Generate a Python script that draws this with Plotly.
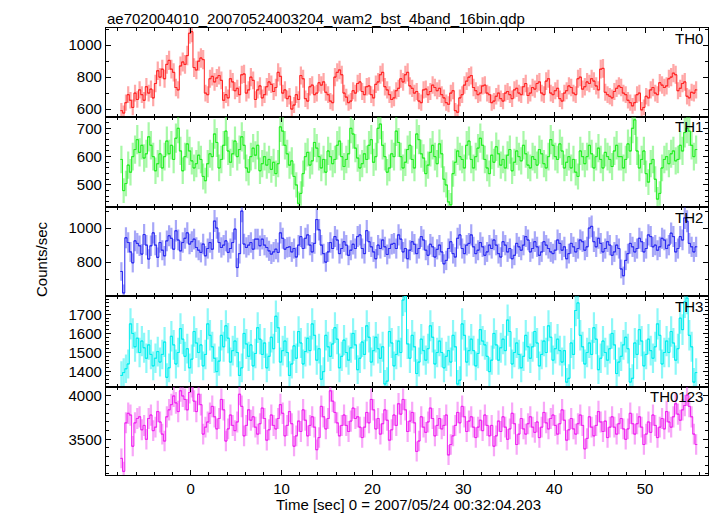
import numpy as np
import plotly.graph_objects as go
from plotly.subplots import make_subplots

# ---- data: 0.25 s bins (16 x 1/64 s), first bin centred at t = -7.625 s ----
bin_width = 0.25
t_start = -7.625

th0 = [590, 575, 640, 690, 655, 610, 700, 660, 720, 690, 655, 740, 700, 725, 670, 760, 840, 800, 850, 790,
       880, 905, 850, 830, 735, 720, 870, 895, 880, 935, 1075, 1085, 860, 845, 900, 920, 910, 700, 690, 790,
       805, 770, 795, 810, 780, 655, 690, 670, 790, 770, 715, 730, 690, 815, 820, 700, 720, 800, 780, 660,
       720, 745, 670, 690, 740, 770, 755, 710, 735, 830, 805, 700, 720, 665, 680, 600, 625, 690, 660, 810,
       790, 665, 650, 740, 750, 690, 700, 765, 750, 770, 705, 690, 650, 640, 800, 830, 845, 815, 700, 675,
       640, 650, 715, 700, 760, 770, 710, 690, 740, 745, 690, 670, 755, 770, 815, 830, 740, 720, 690, 660,
       670, 715, 730, 790, 770, 815, 830, 745, 730, 700, 710, 650, 640, 720, 725, 690, 710, 750, 735, 715,
       730, 690, 670, 640, 630, 700, 715, 590, 580, 670, 690, 750, 775, 800, 810, 735, 715, 690, 700, 745,
       750, 700, 690, 640, 650, 680, 700, 665, 650, 700, 710, 690, 665, 720, 730, 700, 690, 740, 760, 685,
       700, 735, 725, 760, 770, 700, 690, 775, 790, 700, 690, 715, 730, 665, 650, 700, 715, 745, 735, 700,
       690, 790, 800, 725, 740, 770, 760, 790, 775, 745, 720, 850, 855, 705, 690, 680, 670, 710, 730, 745,
       735, 700, 690, 655, 640, 620, 640, 690, 700, 595, 610, 680, 670, 720, 735, 700, 690, 765, 750, 735,
       745, 790, 800, 825, 815, 715, 730, 760, 770, 680, 670, 705, 700, 720]

th1 = [590, 480, 505, 570, 545, 600, 625, 660, 615, 640, 595, 610, 670, 640, 600, 550, 575, 610, 560, 600,
       655, 610, 640, 590, 665, 700, 620, 550, 600, 645, 620, 585, 560, 575, 605, 590, 530, 515, 575, 610,
       600, 680, 650, 560, 590, 640, 690, 620, 580, 610, 655, 600, 625, 670, 640, 560, 545, 600, 630, 605,
       640, 550, 575, 600, 570, 590, 555, 580, 540, 575, 705, 690, 640, 610, 570, 585, 530, 500, 435, 470,
       540, 600, 615, 570, 585, 650, 630, 600, 560, 590, 545, 620, 600, 575, 590, 640, 655, 600, 565, 590,
       610, 700, 680, 630, 595, 560, 575, 610, 590, 640, 660, 580, 600, 700, 715, 640, 600, 545, 560, 610,
       600, 690, 650, 600, 560, 580, 625, 640, 590, 560, 680, 660, 610, 595, 540, 570, 615, 640, 600, 575,
       645, 610, 520, 500, 440, 430, 540, 580, 620, 600, 590, 560, 640, 655, 590, 560, 600, 630, 665, 640,
       590, 560, 540, 605, 580, 635, 610, 570, 590, 560, 605, 625, 550, 580, 620, 600, 585, 640, 610, 570,
       560, 600, 590, 570, 625, 610, 575, 560, 600, 660, 640, 600, 590, 645, 620, 560, 580, 600, 560, 590,
       545, 530, 620, 600, 575, 600, 640, 610, 560, 600, 630, 590, 560, 615, 600, 590, 565, 620, 640, 600,
       600, 560, 590, 645, 620, 700, 730, 620, 560, 590, 620, 540, 510, 575, 590, 520, 450, 470, 560, 590,
       600, 575, 610, 620, 585, 590, 640, 620, 685, 700, 690, 640, 600, 625]

th2 = [745, 619, 943, 915, 860, 796, 925, 910, 896, 847, 962, 900, 818, 896, 972, 900, 828, 915, 870, 837,
       925, 955, 940, 876, 984, 930, 866, 915, 940, 972, 906, 920, 935, 886, 870, 857, 906, 837, 880, 915,
       876, 1041, 1000, 915, 886, 900, 925, 857, 880, 915, 994, 768, 850, 1100, 906, 886, 900, 915, 876, 935,
       935, 896, 935, 900, 886, 866, 847, 860, 876, 857, 972, 940, 876, 886, 890, 860, 880, 830, 900, 950,
       880, 940, 960, 900, 860, 910, 1050, 990, 900, 850, 800, 860, 915, 880, 950, 930, 850, 880, 920, 900,
       840, 870, 905, 880, 950, 960, 880, 850, 985, 920, 890, 860, 820, 900, 880, 930, 890, 845, 880, 905,
       910, 880, 960, 935, 860, 880, 820, 870, 920, 905, 850, 880, 950, 930, 870, 840, 905, 890, 830, 875,
       900, 860, 790, 810, 880, 920, 850, 830, 940, 960, 880, 850, 900, 910, 960, 890, 850, 870, 915, 890,
       840, 860, 900, 880, 930, 900, 850, 830, 920, 900, 860, 880, 820, 840, 910, 890, 870, 900, 950, 930,
       860, 880, 920, 890, 840, 860, 920, 900, 880, 860, 850, 870, 930, 910, 870, 890, 820, 850, 910, 890,
       860, 880, 930, 920, 870, 890, 1000, 1010, 920, 890, 940, 910, 860, 880, 920, 900, 840, 860, 900, 880,
       760, 720, 810, 850, 910, 890, 860, 880, 940, 920, 860, 880, 960, 950, 890, 900, 870, 890, 940, 930,
       880, 900, 970, 950, 860, 880, 950, 930, 1060, 1040, 910, 890, 860, 890]

th3 = [1380, 1395, 1415, 1440, 1650, 1600, 1530, 1575, 1500, 1560, 1525, 1470, 1540, 1490, 1430, 1470, 1505, 1450, 1490, 1555,
       1370, 1420, 1585, 1540, 1440, 1500, 1625, 1570, 1480, 1520, 1420, 1465, 1610, 1550, 1500, 1540, 1430, 1490, 1650, 1590,
       1530, 1470, 1400, 1455, 1590, 1530, 1640, 1575, 1450, 1510, 1560, 1500, 1380, 1420, 1600, 1545, 1480, 1540, 1430, 1495,
       1630, 1570, 1490, 1550, 1420, 1480, 1580, 1520, 1690, 1630, 1450, 1510, 1560, 1500, 1380, 1440, 1535, 1470, 1610, 1550,
       1440, 1505, 1575, 1510, 1650, 1590, 1460, 1520, 1360, 1400, 1590, 1530, 1480, 1545, 1630, 1570, 1420, 1480, 1565, 1500,
       1460, 1525, 1600, 1540, 1410, 1470, 1555, 1490, 1640, 1580, 1450, 1510, 1580, 1520, 1470, 1530, 1335, 1350, 1610, 1550,
       1430, 1490, 1560, 1500, 1775, 1795, 1545, 1470, 1590, 1530, 1390, 1450, 1570, 1510, 1460, 1520, 1640, 1580, 1440, 1500,
       1560, 1500, 1420, 1480, 1510, 1450, 1590, 1530, 1335, 1355, 1650, 1590, 1450, 1510, 1570, 1510, 1430, 1495, 1620, 1560,
       1540, 1480, 1400, 1460, 1600, 1540, 1460, 1525, 1570, 1510, 1670, 1610, 1440, 1500, 1550, 1490, 1420, 1480, 1590, 1530,
       1470, 1530, 1610, 1550, 1430, 1490, 1560, 1500, 1640, 1580, 1460, 1520, 1570, 1510, 1450, 1510, 1345, 1365, 1550, 1490,
       1720, 1760, 1590, 1530, 1440, 1500, 1550, 1490, 1630, 1570, 1410, 1470, 1560, 1500, 1460, 1520, 1600, 1540, 1390, 1450,
       1480, 1540, 1580, 1520, 1345, 1365, 1550, 1490, 1620, 1560, 1430, 1490, 1570, 1510, 1470, 1530, 1650, 1590, 1440, 1500,
       1560, 1500, 1610, 1550, 1460, 1520, 1680, 1620, 1765, 1785, 1590, 1530, 1345, 1395]

th0123 = [3280, 3130, 3690, 3800, 3780, 3420, 3690, 3740, 3760, 3610, 3660, 3500, 3740, 3780, 3600, 3640, 3820, 3700, 3560, 3480,
          3760, 3840, 3900, 4000, 3920, 3820, 4060, 4000, 3960, 3840, 4040, 4110, 3940, 3820, 4020, 3900, 3560, 3640, 3700, 3800,
          3880, 3760, 3620, 3740, 3960, 3840, 3480, 3620, 3780, 3660, 3600, 3700, 4020, 3880, 3540, 3660, 3840, 3720, 3760, 3640,
          3560, 3680, 3860, 3740, 3490, 3610, 3780, 3660, 3620, 3740, 3900, 3800, 3540, 3660, 3820, 3680, 3420, 3540, 3710, 3590,
          3840, 3720, 3540, 3660, 3760, 3640, 3380, 3520, 3880, 3760, 3620, 3740, 4060, 3940, 3810, 3690, 3540, 3660, 3780, 3660,
          3590, 3710, 3860, 3740, 3760, 3640, 3520, 3640, 3810, 3690, 3960, 3840, 3620, 3740, 3560, 3680, 3840, 3720, 3490, 3610,
          3780, 3660, 3910, 3790, 3960, 3840, 3590, 3710, 3810, 3690, 3360, 3480, 3760, 3640, 3580, 3700, 3860, 3740, 3540, 3660,
          3740, 3620, 3660, 3780, 3320, 3440, 3540, 3660, 3810, 3690, 3880, 3760, 3590, 3710, 3760, 3640, 3520, 3640, 3720, 3600,
          3780, 3660, 3540, 3660, 3420, 3540, 3710, 3590, 3760, 3640, 3500, 3620, 3800, 3680, 3440, 3560, 3740, 3620, 3560, 3680,
          3760, 3640, 3580, 3700, 3520, 3640, 3810, 3690, 3620, 3740, 3780, 3660, 3560, 3680, 3840, 3720, 3490, 3610, 3740, 3620,
          3560, 3680, 3780, 3660, 3390, 3510, 3760, 3640, 3540, 3660, 3820, 3700, 3590, 3710, 3520, 3640, 3760, 3640, 3560, 3680,
          3740, 3620, 3500, 3620, 3800, 3680, 3560, 3680, 3760, 3640, 3440, 3560, 3700, 3580, 3780, 3660, 3520, 3640, 3740, 3620,
          3820, 3700, 3640, 3760, 3910, 3790, 3720, 3840, 3890, 4010, 3880, 3760, 3560, 3440]

names = ["TH0", "TH1", "TH2", "TH3", "TH0123"]
series = [th0, th1, th2, th3, th0123]
y_ranges = [[552, 1108], [421, 741], [601, 1122], [1321, 1796], [3088, 4107]]
y_dticks = [200, 100, 200, 100, 500]
y_minor = [100, 20, 100, 20, 100]
x_range = [-9.32, 56.93]
line_colors = ["#ff2424", "#22ee22", "#2a2af0", "#00eeee", "#f024f0"]
err_colors = ["rgba(255,60,60,0.45)", "rgba(60,240,60,0.45)", "rgba(60,60,240,0.45)",
              "rgba(0,240,240,0.45)", "rgba(240,60,240,0.45)"]

title_text = "ae702004010_20070524003204_wam2_bst_4band_16bin.qdp"
x_title = "Time [sec] 0 = 2007/05/24 00:32:04.203"
y_title = "Counts/sec"

FONT = "Liberation Sans, Arial, Helvetica, sans-serif"

# page body adds an 8 px offset; figure is sized so it ends at the window edge
OFF = 8
W, H = 717 - OFF, 516 - OFF
ml, mr, mt, mb = 106 - OFF, 717 - 708, 28 - OFF, 516 - 475
plot_h = H - mt - mb
plot_w = W - ml - mr
panel_edges_px = [28, 116.7, 207.3, 296, 386.7, 475]  # in window pixels


def ypaper(px):
    return (516 - mb - px) / plot_h


def xpaper(px):
    return (px - 106) / plot_w


fig = make_subplots(rows=5, cols=1, shared_xaxes=True, vertical_spacing=0)

for i, (nm, vals) in enumerate(zip(names, series)):
    v = np.array(vals, dtype=float)
    t = t_start + bin_width * np.arange(len(v))
    err = np.sqrt(v * bin_width) / bin_width  # Poisson error of each bin
    fig.add_trace(go.Scatter(
        x=t, y=v, mode="lines", line=dict(color=line_colors[i], width=1, shape="hvh"),
        error_y=dict(type="data", array=err, visible=True, color=err_colors[i],
                     thickness=2.2, width=0),
        error_x=dict(type="constant", value=bin_width / 2, visible=True,
                     color=line_colors[i], thickness=1, width=0),
        showlegend=False, hoverinfo="skip"), row=i + 1, col=1)

    top, bot = panel_edges_px[i], panel_edges_px[i + 1]
    yname = "yaxis" if i == 0 else f"yaxis{i + 1}"
    xname = "xaxis" if i == 0 else f"xaxis{i + 1}"
    fig.layout[yname].update(
        domain=[ypaper(bot), ypaper(top)], range=y_ranges[i], dtick=y_dticks[i],
        tick0=0, ticks="inside", ticklen=5, tickwidth=1, tickcolor="black",
        minor=dict(dtick=y_minor[i], tick0=0, ticks="inside", ticklen=3,
                   tickcolor="black", tickwidth=1),
        showline=True, linecolor="black", linewidth=1.2, mirror="ticks",
        showgrid=False, zeroline=False,
        tickfont=dict(family=FONT, size=15, color="black"))
    fig.layout[xname].update(
        range=x_range, dtick=10, tick0=0, ticks="inside", ticklen=5,
        tickwidth=1, tickcolor="black",
        minor=dict(dtick=2, tick0=0, ticks="inside", ticklen=3,
                   tickcolor="black", tickwidth=1),
        showline=True, linecolor="black", linewidth=1.2, mirror="ticks",
        showgrid=False, zeroline=False, showticklabels=(i == 4),
        tickfont=dict(family=FONT, size=15, color="black"))

    fig.add_annotation(text=nm, xref="paper", yref="paper", x=xpaper(705),
                       y=ypaper(top + 10), xanchor="right", yanchor="middle",
                       showarrow=False, font=dict(family=FONT, size=15, color="black"))

fig.add_annotation(text=title_text, xref="paper", yref="paper", x=xpaper(106),
                   y=ypaper(8.5), xanchor="left", yanchor="top", showarrow=False,
                   borderpad=0, font=dict(family=FONT, size=15, color="black"))
fig.add_annotation(text=x_title, xref="paper", yref="paper", x=xpaper(408),
                   y=ypaper(504), xanchor="center", yanchor="middle", showarrow=False,
                   font=dict(family=FONT, size=15, color="black"))
fig.add_annotation(text=y_title, xref="paper", yref="paper", x=xpaper(41),
                   y=ypaper(259), xanchor="center", yanchor="middle", showarrow=False,
                   textangle=-90, font=dict(family=FONT, size=15, color="black"))

fig.update_layout(width=W, height=H, margin=dict(l=ml, r=mr, t=mt, b=mb),
                  plot_bgcolor="white", paper_bgcolor="white",
                  font=dict(family=FONT, size=15, color="black"))

fig.write_html("out.html")
